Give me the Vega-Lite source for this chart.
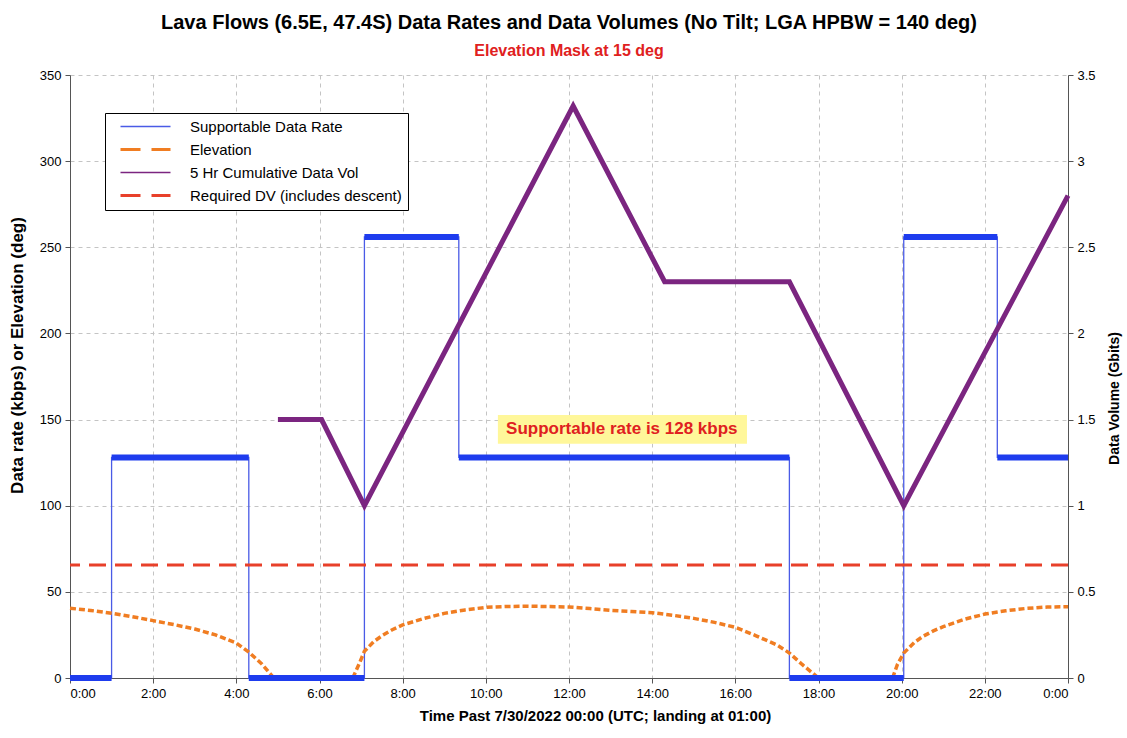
{
  "$schema": "https://vega.github.io/schema/vega-lite/v6.json",
  "width": 998,
  "height": 603,
  "autosize": {"type": "none"},
  "padding": {"left": 70, "top": 75, "right": 59, "bottom": 60},
  "background": "white",
  "title": {
    "text": "Lava Flows (6.5E, 47.4S) Data Rates and Data Volumes (No Tilt; LGA HPBW = 140 deg)",
    "subtitle": "Elevation Mask at 15 deg",
    "font": "Liberation Sans",
    "fontSize": 20,
    "fontWeight": "bold",
    "color": "black",
    "subtitleFont": "Liberation Sans",
    "subtitleFontSize": 16,
    "subtitleFontWeight": "bold",
    "subtitleColor": "#E02020",
    "subtitlePadding": 10,
    "anchor": "middle",
    "offset": 10
  },
  "config": {
    "view": {"stroke": null},
    "font": "Liberation Sans",
    "axis": {
      "labelFont": "Liberation Sans",
      "labelFontSize": 13,
      "labelColor": "black",
      "titleFont": "Liberation Sans",
      "titleFontSize": 15,
      "titleFontWeight": "bold",
      "titleColor": "black",
      "domainColor": "#555555",
      "tickColor": "#555555",
      "gridColor": "#C4C4C4",
      "gridDash": [4, 4],
      "tickSize": 5
    },
    "legend": {
      "orient": "none",
      "legendX": 35,
      "legendY": 38,
      "title": null,
      "symbolType": "stroke",
      "symbolSize": 2500,
      "symbolStrokeWidth": 2,
      "labelFont": "Liberation Sans",
      "labelFontSize": 15,
      "labelColor": "black",
      "labelLimit": 500,
      "rowPadding": 7,
      "padding": 6,
      "symbolOffset": 27,
      "labelOffset": 37,
      "strokeColor": "black",
      "fillColor": "white"
    }
  },
  "datasets": {
    "rate": [
      {"i": 0, "h": 0, "v": 0}, {"i": 1, "h": 1.0, "v": 0}, {"i": 2, "h": 1.0, "v": 128},
      {"i": 3, "h": 4.3, "v": 128}, {"i": 4, "h": 4.3, "v": 0}, {"i": 5, "h": 7.08, "v": 0},
      {"i": 6, "h": 7.08, "v": 256}, {"i": 7, "h": 9.35, "v": 256}, {"i": 8, "h": 9.35, "v": 128},
      {"i": 9, "h": 17.3, "v": 128}, {"i": 10, "h": 17.3, "v": 0}, {"i": 11, "h": 20.05, "v": 0},
      {"i": 12, "h": 20.05, "v": 256}, {"i": 13, "h": 22.3, "v": 256}, {"i": 14, "h": 22.3, "v": 128},
      {"i": 15, "h": 24, "v": 128}
    ],
    "steps": [
      {"h": 0, "h2": 1.0, "v": 0}, {"h": 1.0, "h2": 4.3, "v": 128}, {"h": 4.3, "h2": 7.08, "v": 0},
      {"h": 7.08, "h2": 9.35, "v": 256}, {"h": 9.35, "h2": 17.3, "v": 128}, {"h": 17.3, "h2": 20.05, "v": 0},
      {"h": 20.05, "h2": 22.3, "v": 256}, {"h": 22.3, "h2": 24, "v": 128}
    ],
    "elev": [
      {"s": 1, "h": 0, "v": 40.5}, {"s": 1, "h": 0.5, "v": 39.2}, {"s": 1, "h": 1, "v": 37.6},
      {"s": 1, "h": 1.5, "v": 35.6}, {"s": 1, "h": 2, "v": 33.3}, {"s": 1, "h": 2.5, "v": 31},
      {"s": 1, "h": 3, "v": 28.4}, {"s": 1, "h": 3.5, "v": 25}, {"s": 1, "h": 4, "v": 20.3},
      {"s": 1, "h": 4.3, "v": 15}, {"s": 1, "h": 4.6, "v": 8.5}, {"s": 1, "h": 4.9, "v": 0},
      {"s": 2, "h": 6.8, "v": 0}, {"s": 2, "h": 6.95, "v": 8}, {"s": 2, "h": 7.08, "v": 15.5},
      {"s": 2, "h": 7.3, "v": 21}, {"s": 2, "h": 7.5, "v": 24.5}, {"s": 2, "h": 7.75, "v": 28},
      {"s": 2, "h": 8, "v": 30.8}, {"s": 2, "h": 8.5, "v": 34.5}, {"s": 2, "h": 9, "v": 37.5},
      {"s": 2, "h": 9.5, "v": 39.5}, {"s": 2, "h": 10, "v": 41}, {"s": 2, "h": 10.5, "v": 41.5},
      {"s": 2, "h": 11, "v": 41.7}, {"s": 2, "h": 12, "v": 41.2}, {"s": 2, "h": 12.5, "v": 40.3},
      {"s": 2, "h": 13, "v": 39.3}, {"s": 2, "h": 13.5, "v": 38.6}, {"s": 2, "h": 14, "v": 37.9},
      {"s": 2, "h": 14.5, "v": 36.4}, {"s": 2, "h": 15, "v": 34.6}, {"s": 2, "h": 15.5, "v": 32.3},
      {"s": 2, "h": 16, "v": 29.4}, {"s": 2, "h": 16.5, "v": 24.5}, {"s": 2, "h": 17, "v": 19.2},
      {"s": 2, "h": 17.3, "v": 14.5}, {"s": 2, "h": 17.6, "v": 8}, {"s": 2, "h": 18, "v": 0},
      {"s": 3, "h": 19.78, "v": 0}, {"s": 3, "h": 19.9, "v": 8}, {"s": 3, "h": 20.05, "v": 14.5},
      {"s": 3, "h": 20.3, "v": 20.5}, {"s": 3, "h": 20.5, "v": 24}, {"s": 3, "h": 20.75, "v": 27.2},
      {"s": 3, "h": 21, "v": 29.8}, {"s": 3, "h": 21.5, "v": 34}, {"s": 3, "h": 22, "v": 37.1},
      {"s": 3, "h": 22.5, "v": 39}, {"s": 3, "h": 23, "v": 40.4}, {"s": 3, "h": 23.5, "v": 41.2},
      {"s": 3, "h": 24, "v": 41.4}
    ],
    "vol": [
      {"h": 5.0, "v": 1.5}, {"h": 6.05, "v": 1.5}, {"h": 7.08, "v": 1.0}, {"h": 12.1, "v": 3.32},
      {"h": 14.3, "v": 2.3}, {"h": 17.3, "v": 2.3}, {"h": 20.05, "v": 1.0}, {"h": 24, "v": 2.8}
    ]
  },
  "layer": [
    {
      "layer": [
        {
          "data": {"name": "rate"},
          "transform": [{"calculate": "'Supportable Data Rate'", "as": "series"}],
          "mark": {"type": "line", "strokeWidth": 1.3, "interpolate": "linear"},
          "encoding": {
            "x": {
              "field": "h", "type": "quantitative",
              "scale": {"domain": [0, 24], "nice": false, "zero": false},
              "title": "Time Past 7/30/2022 00:00 (UTC; landing at 01:00)",
              "axis": {
                "values": [0, 2, 4, 6, 8, 10, 12, 14, 16, 18, 20, 22, 24],
                "labelExpr": "(datum.value % 24) + ':00'",
                "grid": true,
                "labelPadding": 4,
                "titlePadding": 8,
                "titleX": 525
              }
            },
            "y": {
              "field": "v", "type": "quantitative",
              "scale": {"domain": [0, 350], "nice": false},
              "title": "Data rate (kbps) or Elevation (deg)",
              "axis": {
                "values": [0, 50, 100, 150, 200, 250, 300, 350],
                "grid": true,
                "labelPadding": 4,
                "titlePadding": 13,
                "titleFontSize": 17,
                "titleY": 280
              }
            },
            "order": {"field": "i", "type": "quantitative"},
            "color": {
              "field": "series", "type": "nominal",
              "scale": {
                "domain": ["Supportable Data Rate", "Elevation", "5 Hr Cumulative Data Vol", "Required DV (includes descent)"],
                "range": ["#4A5BE6", "#F07D22", "#7B2580", "#E8402A"]
              },
              "legend": {
                "encode": {
                  "symbols": {
                    "update": {
                      "strokeDash": {"signal": "datum.value === 'Elevation' || datum.value === 'Required DV (includes descent)' ? [20, 11] : [1, 0]"},
                      "strokeWidth": {"signal": "datum.value === 'Elevation' || datum.value === 'Required DV (includes descent)' ? 3 : 1.5"}
                    }
                  }
                }
              }
            }
          }
        },
        {
          "data": {"name": "elev"},
          "transform": [{"calculate": "'Elevation'", "as": "series"}],
          "mark": {"type": "line", "strokeWidth": 3.5, "strokeDash": [6, 3]},
          "encoding": {
            "x": {"field": "h", "type": "quantitative", "title": "Time Past 7/30/2022 00:00 (UTC; landing at 01:00)"},
            "y": {"field": "v", "type": "quantitative", "title": "Data rate (kbps) or Elevation (deg)"},
            "detail": {"field": "s", "type": "nominal"},
            "color": {"field": "series", "type": "nominal"}
          }
        },
        {
          "data": {"name": "steps"},
          "mark": {"type": "rule", "strokeWidth": 6, "color": "#1E3CEE"},
          "encoding": {
            "x": {"field": "h", "type": "quantitative", "title": "Time Past 7/30/2022 00:00 (UTC; landing at 01:00)"},
            "x2": {"field": "h2"},
            "y": {"field": "v", "type": "quantitative", "title": "Data rate (kbps) or Elevation (deg)"}
          }
        },
        {
          "data": {"values": [{"h": 10.29, "h2": 16.28, "v": 136, "v2": 152.6}]},
          "mark": {"type": "rect", "color": "#FFF79A"},
          "encoding": {
            "x": {"field": "h", "type": "quantitative", "title": "Time Past 7/30/2022 00:00 (UTC; landing at 01:00)"},
            "x2": {"field": "h2"},
            "y": {"field": "v", "type": "quantitative", "title": "Data rate (kbps) or Elevation (deg)"},
            "y2": {"field": "v2"}
          }
        },
        {
          "data": {"values": [{"h": 13.27, "v": 144.3, "t": "Supportable rate is 128 kbps"}]},
          "mark": {"type": "text", "font": "Liberation Sans", "fontSize": 17, "fontWeight": "bold", "color": "#E02020", "align": "center", "baseline": "middle"},
          "encoding": {
            "x": {"field": "h", "type": "quantitative", "title": "Time Past 7/30/2022 00:00 (UTC; landing at 01:00)"},
            "y": {"field": "v", "type": "quantitative", "title": "Data rate (kbps) or Elevation (deg)"},
            "text": {"field": "t"}
          }
        }
      ]
    },
    {
      "layer": [
        {
          "data": {"values": [{"v": 0.656, "series": "Required DV (includes descent)"}]},
          "mark": {"type": "rule", "strokeWidth": 3, "strokeDash": [17, 9]},
          "encoding": {
            "y": {
              "field": "v", "type": "quantitative",
              "scale": {"domain": [0, 3.5], "nice": false},
              "title": "Data Volume (Gbits)",
              "axis": {
                "orient": "right",
                "values": [0, 0.5, 1, 1.5, 2, 2.5, 3, 3.5],
                "format": "~g",
                "grid": false,
                "labelPadding": 4,
                "titleAngle": -90,
                "titleBaseline": "top",
                "titlePadding": 12,
                "titleFontSize": 14,
                "titleY": 323
              }
            },
            "color": {"field": "series", "type": "nominal"}
          }
        },
        {
          "data": {"name": "vol"},
          "transform": [{"calculate": "'5 Hr Cumulative Data Vol'", "as": "series"}],
          "mark": {"type": "line", "strokeWidth": 5},
          "encoding": {
            "x": {"field": "h", "type": "quantitative", "title": "Time Past 7/30/2022 00:00 (UTC; landing at 01:00)"},
            "y": {"field": "v", "type": "quantitative", "title": "Data Volume (Gbits)"},
            "color": {"field": "series", "type": "nominal"}
          }
        }
      ]
    }
  ],
  "resolve": {"scale": {"y": "independent"}}
}
